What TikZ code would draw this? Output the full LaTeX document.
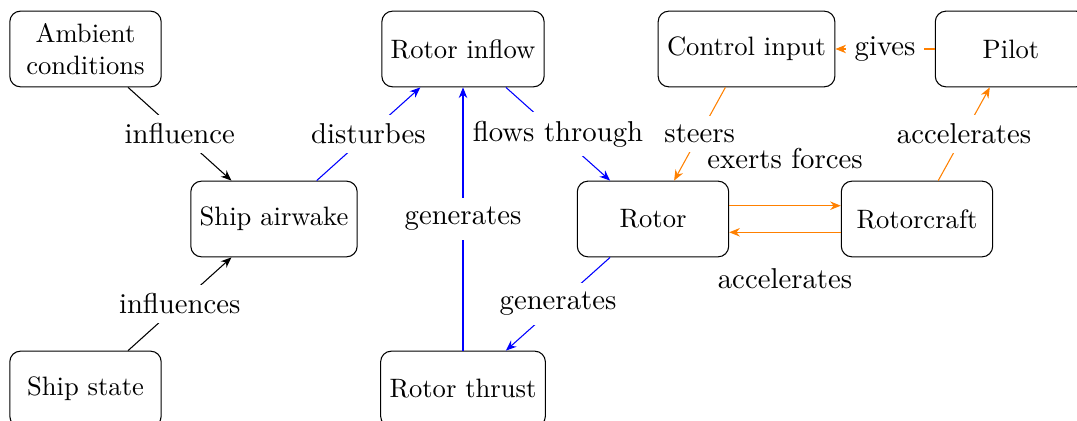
\documentclass[tikz,border=0pt]{standalone}
\usetikzlibrary{arrows.meta}
\begin{document}
\begin{tikzpicture}[x=0.3759pt,y=-0.3759pt,
  box/.style={draw, rounded corners=4pt, minimum width=2cm, minimum height=1cm, align=center, inner sep=3.33pt},
  lbl/.style={fill=white, text=black, font=\fontsize{10.8pt}{13pt}\selectfont},
  sidelbl/.style={text=black, font=\fontsize{10.8pt}{13pt}\selectfont},
  conn/.style={-{Stealth[length=4pt,width=3.2pt]}}]
\useasboundingbox (0,0) rectangle (1077,421);
\clip (0,0) rectangle (1077,421);
\node[box] (amb) at (85.5,49) {Ambient\\conditions};
\node[box] (inflow) at (463,49) {Rotor inflow};
\node[box] (ctrl) at (746.5,49) {Control input};
\node[box] (pilot) at (1011,49) {Pilot};
\node[box] (airwake) at (274,219) {Ship airwake};
\node[box] (rotor) at (653,219) {Rotor};
\node[box] (rotorcraft) at (917,219) {Rotorcraft};
\node[box] (shipstate) at (85.5,389) {Ship state};
\node[box] (thrust) at (463,389) {Rotor thrust};

\draw[conn] (amb) -- node[lbl]{influence} (airwake);
\draw[conn] (shipstate) -- node[lbl]{influences} (airwake);
\draw[conn,blue] (airwake) -- node[lbl]{disturbes} (inflow);
\draw[conn,blue] (thrust) -- node[lbl]{generates} (inflow);
\draw[conn,blue] (inflow) -- node[lbl]{flows through} (rotor);
\draw[conn,blue] (rotor) -- node[lbl]{generates} (thrust);
\draw[conn,orange] (ctrl) -- node[lbl]{steers} (rotor);
\draw[conn,orange] (pilot) -- node[lbl]{gives} (ctrl);
\draw[conn,orange] ([yshift=5pt]rotor.east) -- node[sidelbl,above=10.5pt]{exerts forces} ([yshift=5pt]rotorcraft.west);
\draw[conn,orange] ([yshift=-5pt]rotorcraft.west) -- node[sidelbl,below=10pt]{accelerates} ([yshift=-5pt]rotor.east);
\draw[conn,orange] (rotorcraft) -- node[lbl]{accelerates} (pilot);
\end{tikzpicture}
\end{document}
